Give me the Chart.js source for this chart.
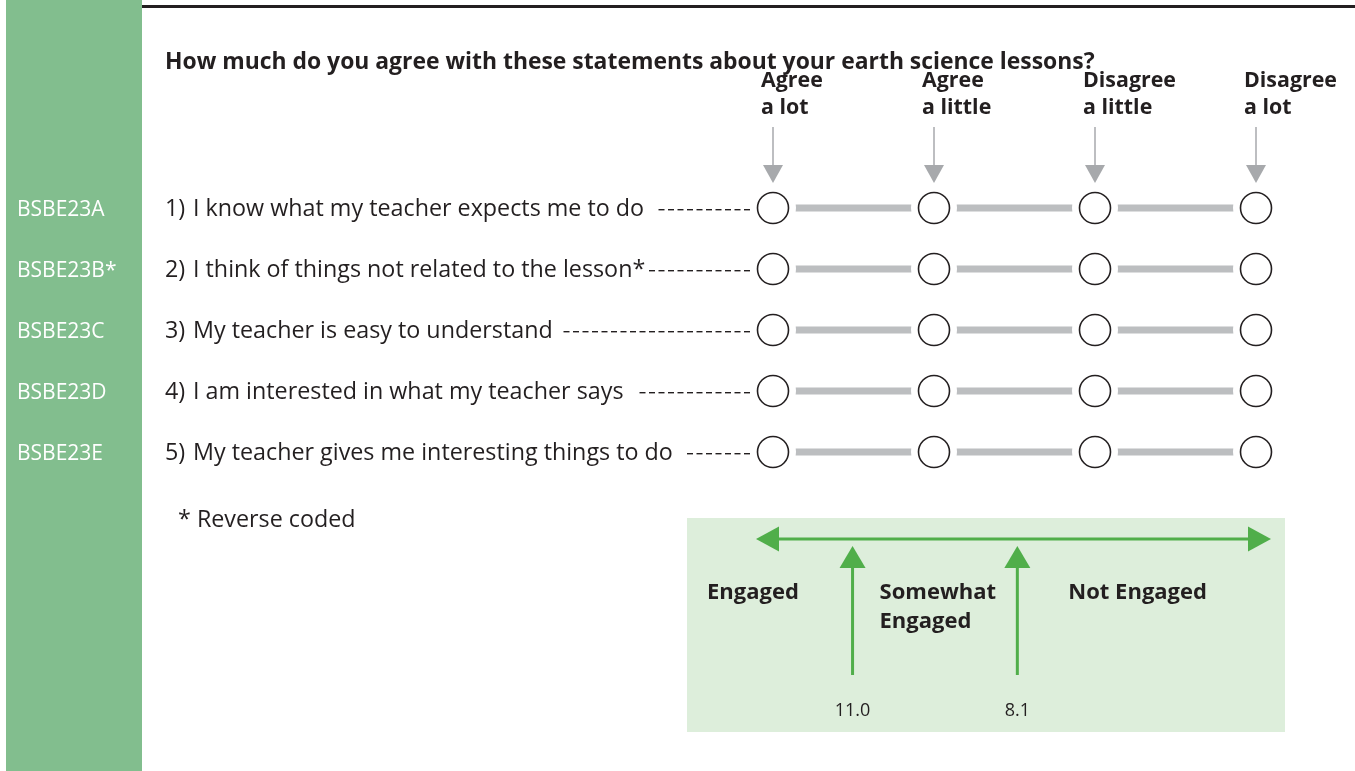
<!DOCTYPE html>
<html>
<head>
<meta charset="utf-8">
<script src="https://cdn.jsdelivr.net/npm/chart.js@4.4.0/dist/chart.umd.min.js"></script>
<style>
  html, body { margin: 0; padding: 0; background: #fff; }
  #chart { display: block; }
</style>
</head>
<body>
<canvas id="chart" width="1355" height="771"></canvas>
<script>
// answer options, left to right
const responses = ['Agree a lot', 'Agree a little', 'Disagree a little', 'Disagree a lot'];
const responseHeaders = [['Agree', 'a lot'], ['Agree', 'a little'], ['Disagree', 'a little'], ['Disagree', 'a lot']];

// items, top to bottom
const itemCodes = ['BSBE23A', 'BSBE23B*', 'BSBE23C', 'BSBE23D', 'BSBE23E'];
const itemNumbers = ['1)', '2)', '3)', '4)', '5)'];
const statements = [
    'I know what my teacher expects me to do',
    'I think of things not related to the lesson*',
    'My teacher is easy to understand',
    'I am interested in what my teacher says',
    'My teacher gives me interesting things to do'
];

// cut points on the engagement scale
const cutScores = [11.0, 8.1];
const cutLabels = ['11.0', '8.1'];
const bandLabels = [['Engaged'], ['Somewhat', 'Engaged'], ['Not Engaged']];

const titleText = 'How much do you agree with these statements about your earth science lessons?';
const footnote = '* Reverse coded';

const ink = '#231F20';
const FONT = 'Open Sans';

function txt(ctx, s, x, y, size, weight, color, align) {
    ctx.font = weight + ' ' + size + 'px "' + FONT + '", sans-serif';
    ctx.fillStyle = color || ink;
    ctx.textAlign = align || 'left';
    ctx.textBaseline = 'alphabetic';
    ctx.fillText(s, x, y);
    return ctx.measureText(s).width;
}

function tri(ctx, pts, color) {
    ctx.fillStyle = color;
    ctx.beginPath();
    ctx.moveTo(pts[0][0], pts[0][1]);
    ctx.lineTo(pts[1][0], pts[1][1]);
    ctx.lineTo(pts[2][0], pts[2][1]);
    ctx.closePath();
    ctx.fill();
}

// everything that is not a data mark: sidebar, texts, box
const surveyPlugin = {
    id: 'survey',
    beforeDraw(chart) {
        const ctx = chart.ctx;
        const xs = chart.scales.x, ys = chart.scales.y;
        ctx.save();
        ctx.fillStyle = '#fff';
        ctx.fillRect(0, 0, chart.width, chart.height);

        // green side band + top rule
        ctx.fillStyle = '#82BE8E';
        ctx.fillRect(6, 0, 136, chart.height);
        ctx.fillStyle = ink;
        ctx.fillRect(142, 5, chart.width - 142, 3);

        txt(ctx, titleText, 165, 69, 22.9, 'bold');

        // column headers + grey pointers
        responseHeaders.forEach((lines, j) => {
            const x = xs.getPixelForValue(j);
            txt(ctx, lines[0], x - 12, 87, 21.4, 'bold');
            txt(ctx, lines[1], x - 12, 114, 21.4, 'bold');
            ctx.strokeStyle = '#A7A9AC';
            ctx.lineWidth = 1.5;
            ctx.beginPath();
            ctx.moveTo(x, 127);
            ctx.lineTo(x, 166);
            ctx.stroke();
            tri(ctx, [[x - 10, 165], [x + 10, 165], [x, 183]], '#A7A9AC');
        });

        // rows with dashed leaders up to the first circle
        const dashEnd = xs.getPixelForValue(0) - 23;
        statements.forEach((s, i) => {
            const cy = ys.getPixelForValue(i);
            const y = cy + 8;
            txt(ctx, itemCodes[i], 17, y, 21, 'normal', '#fff');
            txt(ctx, itemNumbers[i], 165, y, 23.3, 'normal');
            const w = txt(ctx, s, 193, y, 23.3, 'normal');
            const start = 193 + w + (s.endsWith('*') ? 2 : 8);
            ctx.fillStyle = ink;
            for (let x = dashEnd - 6; x >= start; x -= 9.5) {
                ctx.fillRect(x, cy + 1, 6, 1.4);
            }
        });

        txt(ctx, footnote, 178, 527, 23.3, 'normal');

        // engagement box
        ctx.fillStyle = '#DDEEDB';
        ctx.fillRect(687, 518, 598, 214);
        const green = '#50AE4A';
        ctx.strokeStyle = green;
        ctx.lineWidth = 3;
        ctx.beginPath();
        ctx.moveTo(770, 539);
        ctx.lineTo(1256, 539);
        ctx.stroke();
        tri(ctx, [[756, 539], [779, 526.5], [779, 551.5]], green);
        tri(ctx, [[1271, 539], [1248, 526.5], [1248, 551.5]], green);

        const sc = chart.scales.score;
        const bandX = [707, sc.getPixelForValue(cutScores[0]) + 27, sc.getPixelForValue(cutScores[1]) + 51];
        bandLabels.forEach((lines, k) => {
            lines.forEach((l, m) => txt(ctx, l, bandX[k], 599 + m * 29, 22, 'bold'));
        });
        ctx.restore();
    },
    afterDatasetsDraw(chart) {
        const ctx = chart.ctx;
        const sc = chart.scales.score;
        const green = '#50AE4A';
        ctx.save();
        cutScores.forEach((v, k) => {
            const x = sc.getPixelForValue(v);
            ctx.strokeStyle = green;
            ctx.lineWidth = 3;
            ctx.beginPath();
            ctx.moveTo(x, 675);
            ctx.lineTo(x, 566);
            ctx.stroke();
            tri(ctx, [[x, 546], [x - 13, 568], [x + 13, 568]], green);
            txt(ctx, cutLabels[k], x, 716, 18, 'normal', ink, 'center');
        });
        ctx.restore();
    }
};

const points = [];
statements.forEach((s, i) => responses.forEach((r, j) => points.push({ x: j, y: i })));

const datasets = [];
// circles on top, white halo under them, grey track at the bottom
datasets.push({
    type: 'scatter', data: points, order: 1, clip: false,
    pointRadius: 15.5, pointBackgroundColor: '#fff', pointBorderColor: ink, pointBorderWidth: 1.6
});
datasets.push({
    type: 'scatter', data: points, order: 2, clip: false,
    pointRadius: 23, pointBackgroundColor: '#fff', pointBorderWidth: 0
});
statements.forEach((s, i) => {
    datasets.push({
        type: 'line', order: 3, clip: false,
        data: responses.map((r, j) => ({ x: j, y: i })),
        borderColor: '#BCBEC0', borderWidth: 7, pointRadius: 0, fill: false
    });
});

new Chart(document.getElementById('chart'), {
    type: 'scatter',
    data: { datasets: datasets },
    options: {
        responsive: false,
        animation: false,
        events: [],
        layout: { padding: { left: 773, right: 99, top: 208, bottom: 319 } },
        scales: {
            x: { type: 'linear', min: 0, max: 3, display: false },
            score: { type: 'linear', axis: 'x', reverse: true, min: 3.9, max: 12.4, display: false },
            y: { type: 'linear', min: 0, max: 4, reverse: true, display: false }
        },
        plugins: { legend: { display: false }, tooltip: { enabled: false } }
    },
    plugins: [surveyPlugin]
});
</script>
</body>
</html>
